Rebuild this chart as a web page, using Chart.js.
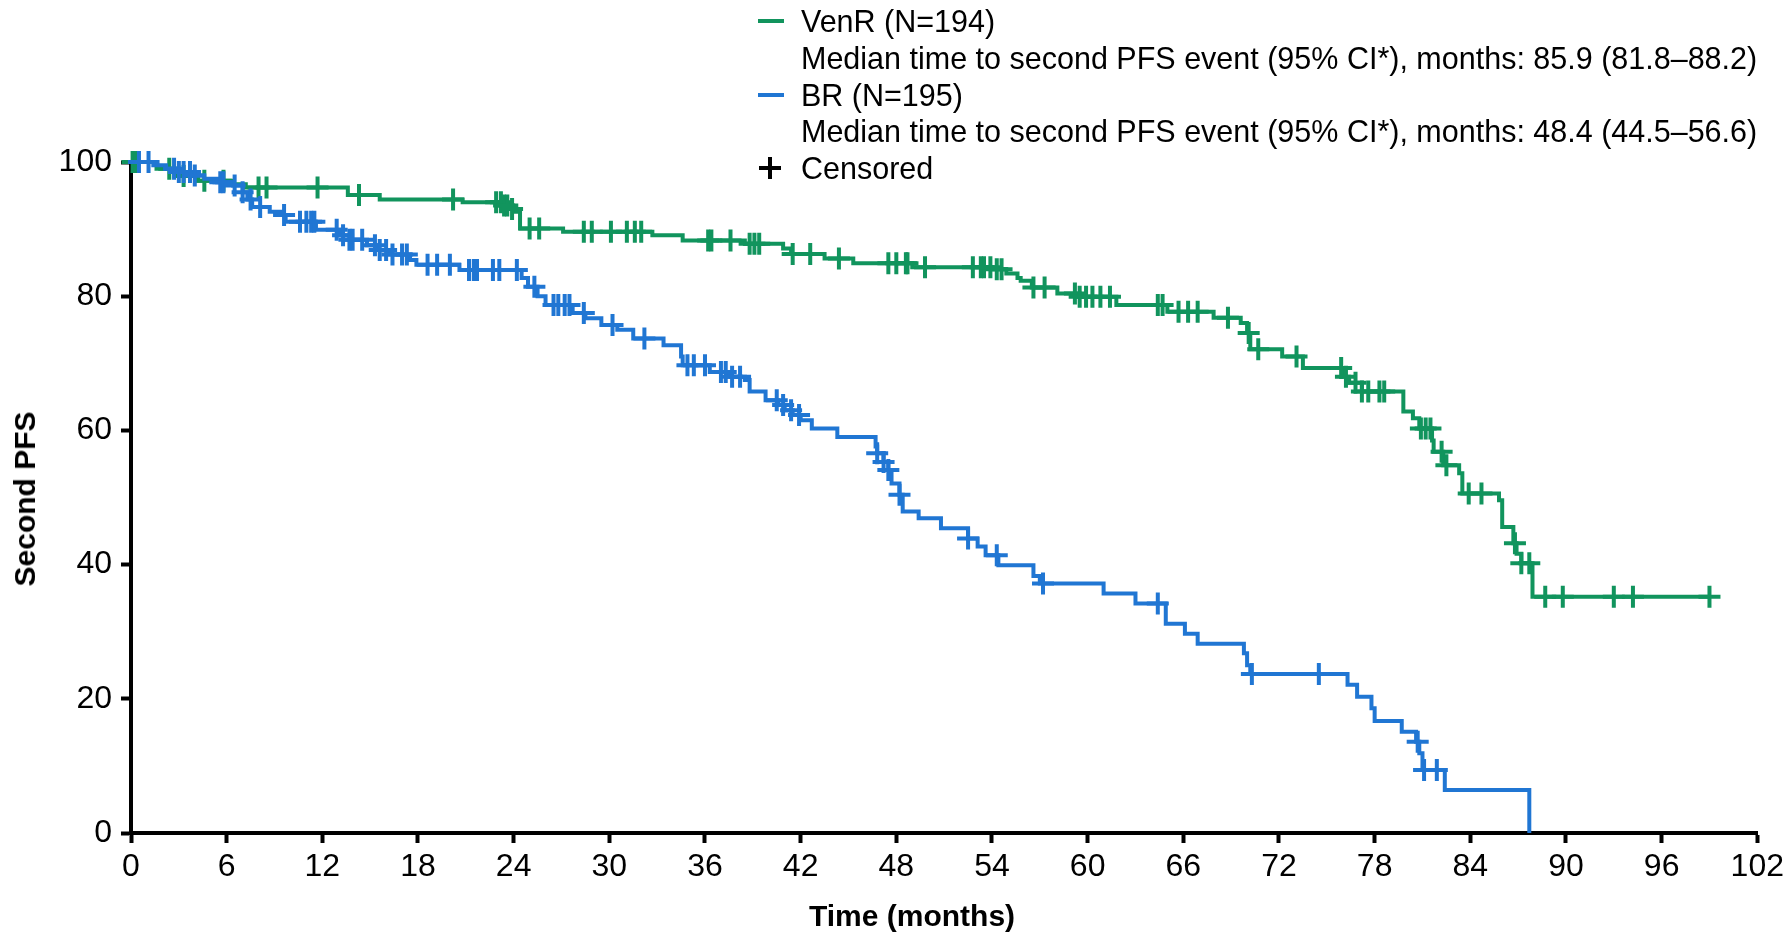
<!DOCTYPE html>
<html><head><meta charset="utf-8">
<script src="https://cdn.jsdelivr.net/npm/chart.js@4.4.0/dist/chart.umd.min.js"></script>
<style>
html,body{margin:0;padding:0;background:#fff;}
#wrap{position:relative;width:1789px;height:932px;overflow:hidden;font-family:"Liberation Sans",Arial,Helvetica,sans-serif;color:#000;}
canvas{position:absolute;left:0;top:0;}
.lg{position:absolute;left:801px;font-size:30.5px;line-height:30px;white-space:nowrap;transform:translateY(-50%);}
.dash{position:absolute;left:758px;width:26px;height:4px;transform:translateY(-50%);}
.xt{position:absolute;font-weight:bold;font-size:30px;line-height:30px;white-space:nowrap;transform:translate(-50%,-50%);}
.yt{position:absolute;font-weight:bold;font-size:30px;line-height:30px;white-space:nowrap;transform:translate(-50%,-50%) rotate(-90deg);}
.ch{position:absolute;background:#000;}
</style></head>
<body><div id="wrap"><canvas id="c" width="1789" height="932"></canvas>
<div class="dash" style="top:21px;background:#11945d"></div>
<div class="lg" style="top:21px">VenR (N=194)</div>
<div class="lg" style="top:58px">Median time to second PFS event (95% CI*), months: 85.9 (81.8–88.2)</div>
<div class="dash" style="top:95px;background:#2076d3"></div>
<div class="lg" style="top:95px">BR (N=195)</div>
<div class="lg" style="top:131px">Median time to second PFS event (95% CI*), months: 48.4 (44.5–56.6)</div>
<div class="ch" style="left:759px;top:166px;width:22px;height:4px"></div>
<div class="ch" style="left:768px;top:157px;width:4px;height:22px"></div>
<div class="lg" style="top:168px">Censored</div>
<div class="xt" style="left:912px;top:916px">Time (months)</div>
<div class="yt" style="left:25px;top:499px">Second PFS</div>
</div>
<script>
const xTicks=[0,6,12,18,24,30,36,42,48,54,60,66,72,78,84,90,96,102];
const yTicks=[0,20,40,60,80,100];

const venrTime=[0,1.6,3.0,4.2,6.2,7.2,13.6,15.6,20.8,23.3,23.8,24.1,24.4,27.1,32.7,34.6,38.5,40.9,41.4,43.5,45.3,49.0,54.0,54.9,55.6,55.8,56.5,58.1,59.5,61.8,65.0,67.9,69.6,70.0,70.2,72.2,73.5,76.0,76.4,77.2,79.8,80.4,80.8,81.6,81.7,82.3,83.3,83.5,85.8,86.0,86.7,86.9,87.2,87.9,99.0];
const venrSurv=[100,99.0,97.9,97.2,96.7,96.2,95.1,94.4,94.0,93.5,93.0,92.6,90.1,89.6,89.1,88.3,87.8,87.1,86.3,85.6,84.9,84.3,84.0,83.4,82.7,82.3,81.3,80.4,79.9,78.7,77.7,76.8,76.0,74.5,72.1,71.0,69.3,68.0,67.1,65.8,62.8,61.8,60.3,58.5,56.8,54.8,53.6,50.6,49.6,45.6,43.2,41.6,40.2,35.2,35.2];
const venrCensor=[0.1,0.3,2.4,3.3,4.6,5.8,8.0,8.5,11.7,14.3,20.2,22.9,23.2,23.4,23.6,23.9,25.0,25.6,28.4,28.9,30.1,31.1,31.6,32.0,36.2,36.4,37.6,38.8,39.1,39.4,41.5,42.6,44.4,47.5,48.0,48.6,48.7,49.8,52.8,53.3,53.5,53.9,54.3,54.6,56.6,57.3,59.2,59.5,59.9,60.3,60.8,61.4,64.4,64.7,65.7,66.3,66.9,68.8,70.1,70.7,73.1,75.9,76.2,76.8,77.2,77.6,78.3,78.6,80.9,81.2,81.5,82.2,82.5,83.9,84.7,86.8,87.2,87.7,88.7,89.8,93.0,94.2,99.0];

const brTime=[0,1.4,2.2,3.0,3.8,4.6,5.4,6.4,7.0,7.3,7.6,8.7,9.5,9.7,11.6,13.1,13.7,14.8,15.4,16.2,17.5,17.9,20.6,24.5,24.9,25.5,26.0,27.7,28.5,29.5,30.5,31.5,33.4,34.5,34.6,36.3,37.5,38.5,38.8,39.8,40.6,41.0,41.5,42.0,42.7,44.3,46.7,46.8,47.2,47.5,47.7,48.2,48.4,49.4,50.8,52.5,53.1,53.6,54.4,56.6,57.0,61.0,63.0,64.9,66.1,66.9,69.8,70.0,70.2,76.3,76.9,77.8,78.0,79.7,80.6,80.8,81.0,82.4,87.7];
const brSurv=[100,99.5,99.0,98.5,98.0,97.5,97.0,96.5,95.5,94.4,93.3,92.6,92.1,91.1,89.9,89.1,88.4,87.6,86.9,86.2,85.4,84.7,83.9,82.7,81.4,80.0,78.7,77.5,76.7,75.7,75.0,73.7,72.7,71.0,69.7,68.7,68.0,67.5,65.8,64.5,63.8,63.0,62.3,61.5,60.3,59.0,57.6,56.6,55.3,54.1,52.1,50.4,47.9,46.9,45.4,43.9,42.7,41.4,39.9,38.3,37.2,35.7,34.2,31.2,29.7,28.2,26.8,25.0,23.7,22.1,20.3,18.6,16.7,15.1,13.6,11.9,9.4,6.4,0];
const brCensor=[0.5,1.1,2.7,3.0,3.3,3.7,4.0,5.6,5.8,6.5,7.0,7.5,8.1,9.6,10.6,11.0,11.3,11.5,12.9,13.3,13.7,13.9,14.5,15.3,15.6,16.0,16.4,17.0,17.3,18.6,19.2,20.0,21.2,21.5,21.7,22.7,23.1,24.2,25.3,26.5,26.8,27.2,27.5,28.4,30.2,32.2,34.9,35.3,36.0,37.0,37.3,37.7,38.2,40.5,40.9,41.4,41.9,46.8,47.2,47.5,48.2,52.5,54.3,57.2,64.4,70.3,74.5,80.7,81.1,81.9];

const GREEN='#11945d', BLUE='#2076d3';
const FONT='"Liberation Sans", Arial, Helvetica, sans-serif';

function stepAt(times,surv,t){let v=surv[0];for(let i=0;i<times.length;i++){if(times[i]<=t)v=surv[i];else break;}return v;}
const curve=(times,surv)=>times.map((t,i)=>({x:t,y:surv[i]}));
const cens=(c,times,surv)=>c.map(t=>({x:t,y:stepAt(times,surv,t)}));

const lineDs=(label,times,surv,color,order)=>({label,data:curve(times,surv),showLine:true,stepped:true,borderColor:color,backgroundColor:color,borderWidth:4,pointRadius:0,fill:false,clip:false,order});
const censDs=(label,c,times,surv,color,order)=>({label,data:cens(c,times,surv),showLine:false,pointStyle:'cross',pointRadius:11,pointHoverRadius:11,borderColor:color,backgroundColor:color,pointBorderWidth:4,borderWidth:4,clip:false,order});

new Chart(document.getElementById('c'),{
  type:'scatter',
  data:{datasets:[
    lineDs('BR (N=195)',brTime,brSurv,BLUE,1),
    censDs('BR censored',brCensor,brTime,brSurv,BLUE,0),
    lineDs('VenR (N=194)',venrTime,venrSurv,GREEN,3),
    censDs('VenR censored',venrCensor,venrTime,venrSurv,GREEN,2)
  ]},
  options:{
    responsive:false,devicePixelRatio:1,animation:false,
    layout:{padding:{top:162,right:31,left:0,bottom:0}},
    plugins:{legend:{display:false},tooltip:{enabled:false}},
    scales:{
      x:{type:'linear',min:0,max:102,
        afterBuildTicks:s=>{s.ticks=xTicks.map(v=>({value:v}));},
        afterFit:s=>{s.height=99;},
        grid:{drawOnChartArea:false,drawTicks:true,tickLength:10,tickWidth:4,tickColor:'#000',color:'#000'},
        border:{display:true,color:'#000',width:4},
        ticks:{color:'#000',font:{family:FONT,size:32},padding:5,maxRotation:0,autoSkip:false}},
      y:{type:'linear',min:0,max:100,
        afterBuildTicks:s=>{s.ticks=yTicks.map(v=>({value:v}));},
        afterFit:s=>{s.width=131;},
        grid:{drawOnChartArea:false,drawTicks:true,tickLength:10,tickWidth:4,tickColor:'#000',color:'#000'},
        border:{display:true,color:'#000',width:4},
        ticks:{color:'#000',font:{family:FONT,size:32},padding:9,autoSkip:false}}
    }
  }
});
</script>
</body></html>
